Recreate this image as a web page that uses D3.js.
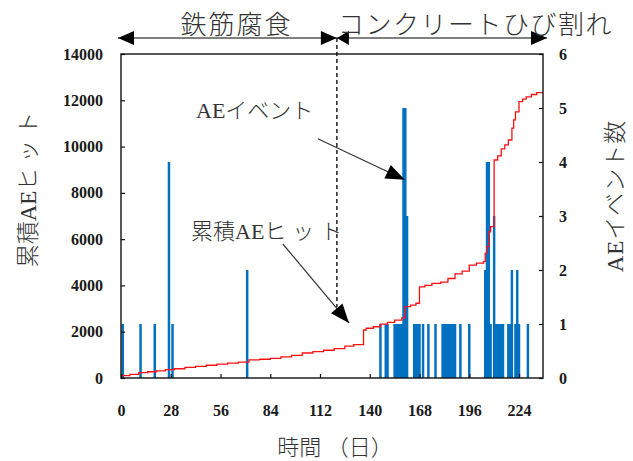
<!DOCTYPE html>
<html>
<head>
<meta charset="utf-8">
<script src="https://cdn.jsdelivr.net/npm/d3@7"></script>
<style>
  html, body { margin: 0; padding: 0; background: #fff; }
  svg { display: block; }
</style>
</head>
<body>
<svg id="chart" width="633" height="461"></svg>
<script>
// Axis ticks
const dayTicks = [0, 28, 56, 84, 112, 140, 168, 196, 224];
const hitTicks = [0, 2000, 4000, 6000, 8000, 10000, 12000, 14000];
const countTicks = [0, 1, 2, 3, 4, 5, 6];

// AE events per day (bars, right axis)
const eventDays = [1, 11, 19, 27, 29, 71,
  146, 149, 150, 154, 155, 156, 157, 158, 159, 160, 161,
  165, 166, 167, 168, 170, 173, 177,
  181, 182, 183, 184, 185, 186, 187, 188,
  191, 196,
  205, 206, 207, 208, 210, 211, 212, 213, 214, 215,
  218, 219, 220, 222, 223, 224, 229];
const eventCounts = [1, 1, 1, 4, 1, 2,
  1, 1, 1, 1, 1, 1, 1, 1, 5, 5, 3,
  1, 1, 1, 1, 1, 1, 1,
  1, 1, 1, 1, 1, 1, 1, 1,
  1, 1,
  2, 4, 4, 1, 3, 1, 1, 1, 1, 1,
  1, 1, 2, 1, 2, 1, 1];

// Cumulative AE hits (red staircase line, left axis)
const hitDays = [0, 5, 10, 15, 20, 25, 30, 36, 42, 48, 54, 60, 66, 72, 78, 84, 90, 96, 102, 108,
  114, 120, 126, 131, 136.5, 138, 142, 146, 150, 154, 158, 160, 163, 166, 168, 171, 175, 180,
  184, 188, 192, 196, 200, 204, 205, 206, 207, 208, 210, 212, 214, 216, 218, 220, 221, 222,
  224, 226, 228, 231, 234, 238];
const cumulativeHits = [100, 160, 230, 270, 310, 360, 400, 460, 500, 550, 600, 640, 690, 780, 810, 850, 910, 980, 1080, 1140,
  1200, 1270, 1380, 1440, 2075, 2150, 2215, 2330, 2400, 2500, 2600, 3080, 3150, 3230, 3940, 4000, 4090, 4140,
  4300, 4500, 4620, 4880, 4960, 5030, 5400, 5675, 6320, 6540, 9420, 9600, 9900, 10070, 10285, 10800, 11150, 11500,
  11940, 12050, 12150, 12250, 12330, 12370];

// Phase boundary between rebar corrosion and concrete cracking (days)
const phaseBoundary = 121.5;
const phaseLabels = ["鉄筋腐食", "コンクリートひび割れ"];

const plot = { left: 121, right: 543, top: 54, bottom: 378 };

const svg = d3.select("#chart");
const jpFont = "'Liberation Serif', 'Noto Sans CJK JP', serif";
const numFont = "'Liberation Serif', 'Times New Roman', serif";

const x = d3.scaleLinear().domain([0, 237.5]).range([plot.left, plot.right]);
const yHits = d3.scaleLinear().domain([0, 14000]).range([plot.bottom, plot.top]);
const yCount = d3.scaleLinear().domain([0, 6]).range([plot.bottom, plot.top]);

svg.append("defs").append("clipPath").attr("id", "plotClip")
  .append("rect")
  .attr("x", plot.left).attr("y", plot.top)
  .attr("width", plot.right - plot.left).attr("height", plot.bottom - plot.top);

// Bars: AE events
const dayW = x(1) - x(0);
const barW = dayW + 0.7;
svg.append("g").attr("clip-path", "url(#plotClip)")
  .selectAll("rect")
  .data(eventDays.map((d, i) => ({ day: d, n: eventCounts[i] })))
  .join("rect")
  .attr("x", d => x(d.day) - barW / 2)
  .attr("y", d => yCount(d.n))
  .attr("width", barW)
  .attr("height", d => yCount(0) - yCount(d.n))
  .attr("fill", "#0070C0");

// Cumulative hits line
const line = d3.line()
  .x((d, i) => x(hitDays[i]))
  .y(d => yHits(d))
  .curve(d3.curveStepAfter);
svg.append("path")
  .attr("clip-path", "url(#plotClip)")
  .attr("d", line(cumulativeHits))
  .attr("fill", "none")
  .attr("stroke", "#ff1010")
  .attr("stroke-width", 1.3);

// Frame
svg.append("rect")
  .attr("x", plot.left).attr("y", plot.top)
  .attr("width", plot.right - plot.left).attr("height", plot.bottom - plot.top)
  .attr("fill", "none").attr("stroke", "#111").attr("stroke-width", 1.4);

// Axes with inward ticks
function styleAxis(g) {
  g.select(".domain").remove();
  g.selectAll(".tick line").attr("stroke", "#111").attr("stroke-width", 1.2);
  g.selectAll(".tick text")
    .attr("fill", "#1a1a1a")
    .style("font-family", numFont)
    .style("font-size", "16px")
    .style("font-weight", "bold");
}
svg.append("g").attr("transform", `translate(0,${plot.bottom})`)
  .call(d3.axisBottom(x).tickValues(dayTicks).tickSize(-4).tickPadding(27))
  .call(styleAxis);
svg.append("g").attr("transform", `translate(${plot.left},0)`)
  .call(d3.axisLeft(yHits).tickValues(hitTicks).tickSize(-4).tickPadding(18).tickFormat(d3.format("d")))
  .call(styleAxis);
svg.append("g").attr("transform", `translate(${plot.right},0)`)
  .call(d3.axisRight(yCount).tickValues(countTicks).tickSize(-4).tickPadding(16).tickFormat(d3.format("d")))
  .call(styleAxis);

// Text helper: plain part followed by a letter-spaced katakana part
function spacedText(sel, plain, spaced, spacing) {
  sel.append("tspan").text(plain);
  sel.append("tspan").style("letter-spacing", spacing).text(spaced);
  return sel;
}

// Axis titles
const titleColor = "#333";
spacedText(svg.append("text")
  .attr("transform", `translate(28,187) rotate(-90)`)
  .attr("text-anchor", "middle").attr("dominant-baseline", "central")
  .style("font-family", jpFont).style("font-size", "23px").style("font-weight", 300)
  .attr("fill", titleColor), "累積AE", "ヒット", "5px");
svg.append("text")
  .attr("transform", `translate(615,196) rotate(-90)`)
  .attr("text-anchor", "middle").attr("dominant-baseline", "central")
  .style("font-family", jpFont).style("font-size", "23px").style("font-weight", 300)
  .style("letter-spacing", "1px")
  .attr("fill", titleColor)
  .text("AEイベント数");
svg.append("text")
  .attr("x", 335).attr("y", 455)
  .attr("text-anchor", "middle")
  .style("font-family", jpFont).style("font-size", "22px").style("font-weight", 300)
  .attr("fill", titleColor)
  .text("時間 （日）");

// Arrowhead helper: filled triangle with tip at (tx,ty), pointing along (tx-fx, ty-fy)
function arrowHead(g, fx, fy, tx, ty, len, half) {
  const dx = tx - fx, dy = ty - fy, L = Math.hypot(dx, dy);
  const ux = dx / L, uy = dy / L, nx = -uy, ny = ux;
  const bx = tx - ux * len, by = ty - uy * len;
  g.append("path")
    .attr("d", `M${tx},${ty}L${bx + nx * half},${by + ny * half}L${bx - nx * half},${by - ny * half}Z`)
    .attr("fill", "#000");
}

// Phase span arrows along the top
const ann = svg.append("g");
const bx = x(phaseBoundary);
const spanY = 38;
const spanL = x(0) - 3, spanR = x(237.5) + 4;
ann.append("line").attr("x1", spanL).attr("x2", bx).attr("y1", spanY).attr("y2", spanY)
  .attr("stroke", "#808080").attr("stroke-width", 2);
ann.append("line").attr("x1", bx).attr("x2", spanR).attr("y1", spanY).attr("y2", spanY)
  .attr("stroke", "#808080").attr("stroke-width", 2);
arrowHead(ann, spanL + 20, spanY, spanL, spanY, 16, 7);
arrowHead(ann, bx - 20, spanY, bx, spanY, 16, 7);
arrowHead(ann, bx + 20, spanY, bx, spanY, 12, 7);
arrowHead(ann, spanR - 20, spanY, spanR, spanY, 16, 7);

ann.append("line").attr("x1", bx).attr("x2", bx).attr("y1", spanY).attr("y2", 307)
  .attr("stroke", "#111").attr("stroke-width", 1.4).attr("stroke-dasharray", "4,3");

ann.append("text")
  .attr("x", (spanL + bx) / 2 + 9).attr("y", 34)
  .attr("text-anchor", "middle")
  .style("font-family", jpFont).style("font-size", "26px").style("font-weight", 300)
  .style("letter-spacing", "2px")
  .attr("fill", titleColor).text(phaseLabels[0]);
ann.append("text")
  .attr("x", bx + 1).attr("y", 34)
  .attr("text-anchor", "start")
  .style("font-family", jpFont).style("font-size", "26px").style("font-weight", 300)
  .style("letter-spacing", "1.5px")
  .attr("fill", titleColor).text(phaseLabels[1]);

// Callouts
ann.append("text")
  .attr("x", 196).attr("y", 118)
  .style("font-family", jpFont).style("font-size", "22px").style("font-weight", 300)
  .attr("fill", titleColor).text("AEイベント");
spacedText(ann.append("text")
  .attr("x", 191).attr("y", 239)
  .style("font-family", jpFont).style("font-size", "22px").style("font-weight", 300)
  .attr("fill", titleColor), "累積AE", "ヒット", "6px");

const evFrom = [x(110.8), yCount(4.43)], evTo = [x(159.7), yCount(3.67)];
ann.append("line").attr("x1", evFrom[0]).attr("y1", evFrom[1]).attr("x2", evTo[0]).attr("y2", evTo[1])
  .attr("stroke", "#333").attr("stroke-width", 1.2);
arrowHead(ann, evFrom[0], evFrom[1], evTo[0], evTo[1], 19, 7.5);

const hitFrom = [x(91.1), yHits(5790)], hitTo = [x(128.3), yHits(2380)];
ann.append("line").attr("x1", hitFrom[0]).attr("y1", hitFrom[1]).attr("x2", hitTo[0]).attr("y2", hitTo[1])
  .attr("stroke", "#333").attr("stroke-width", 1.2);
arrowHead(ann, hitFrom[0], hitFrom[1], hitTo[0], hitTo[1], 19, 7.5);
</script>
</body>
</html>
